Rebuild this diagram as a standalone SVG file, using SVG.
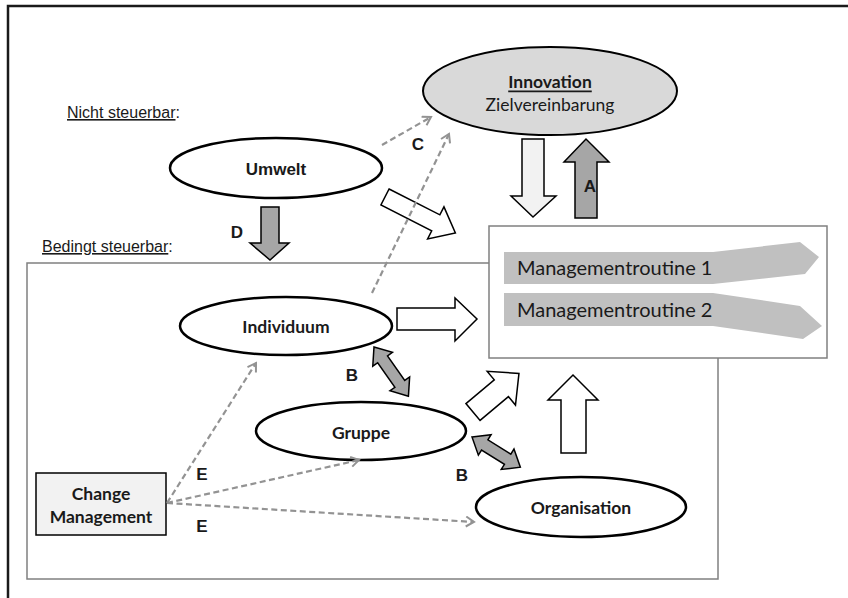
<svg xmlns="http://www.w3.org/2000/svg" width="848" height="598" viewBox="0 0 848 598">
  <defs>
    <style>
      .node { fill: #ffffff; stroke: #000000; stroke-width: 2.5; }
      .lbl { font-family: Lato, "Open Sans", sans-serif; font-weight: bold; font-size: 17.5px; fill: #1a1a1a; text-anchor: middle; dominant-baseline: central; }
      .lbl-plain { font-family: Lato, "Open Sans", sans-serif; font-size: 17.5px; fill: #1a1a1a; text-anchor: middle; dominant-baseline: central; }
      .area { font-family: "Liberation Sans", Arial, sans-serif; font-size: 16px; fill: #1a1a1a; }
      .letter { font-family: "Liberation Sans", Arial, sans-serif; font-weight: bold; font-size: 17px; fill: #1a1a1a; text-anchor: middle; dominant-baseline: central; }
      .frame { fill: none; stroke: #808080; stroke-width: 1.5; }
      .dash { fill: none; stroke: #939393; stroke-width: 2.2; stroke-dasharray: 6 3.5; marker-end: url(#open); }
      .block-white { fill: #ffffff; stroke: #000000; stroke-width: 1.5; }
      .block-light { fill: #f2f2f2; stroke: #000000; stroke-width: 1.5; }
      .block-gray { fill: #a6a6a6; stroke: #000000; stroke-width: 1.5; }
      .routine { fill: #c0c0c0; }
      .routine-text { font-family: Lato, "Open Sans", sans-serif; font-size: 20px; fill: #1a1a1a; }
    </style>
    <marker id="open" viewBox="0 0 12 12" refX="10" refY="6" markerWidth="12" markerHeight="12" markerUnits="userSpaceOnUse" orient="auto">
      <path d="M2,1 L10,6 L2,11" fill="none" stroke="#939393" stroke-width="2"/>
    </marker>
  </defs>

  <rect width="848" height="598" fill="#ffffff"/>
  <!-- page border (top and left) -->
  <path d="M8,598 V6 H848" fill="none" stroke="#1a1a1a" stroke-width="2.5"/>

  <!-- area labels and frames -->
  <text class="area" x="67" y="118"><tspan text-decoration="underline">Nicht steuerbar</tspan>:</text>
  <text class="area" x="42" y="252"><tspan text-decoration="underline">Bedingt steuerbar</tspan>:</text>
  <rect class="frame" x="27" y="263" width="691" height="316"/>

  <!-- management routines box -->
  <g id="routines">
    <rect x="489" y="226" width="338" height="132" fill="#ffffff" stroke="#808080" stroke-width="1.5"/>
    <polygon class="routine" points="504,252 713,252 800,242 819,257 805,274 713,284 504,284"/>
    <polygon class="routine" points="504,293 713,293 800,306 822,326 803,339 713,326 504,326"/>
    <text class="routine-text" x="517" y="275">Managementroutine 1</text>
    <text class="routine-text" x="517" y="317">Managementroutine 2</text>
  </g>

  <!-- nodes -->
  <g id="innovation">
    <ellipse cx="550" cy="91" rx="127" ry="44" fill="#d9d9d9" stroke="#000000" stroke-width="2"/>
    <text class="lbl" x="550" y="81" text-decoration="underline">Innovation</text>
    <text class="lbl-plain" x="550" y="104">Zielvereinbarung</text>
  </g>
  <g id="umwelt">
    <ellipse class="node" cx="276" cy="168" rx="106" ry="30"/>
    <text class="letter" x="276" y="169">Umwelt</text>
  </g>
  <g id="individuum">
    <ellipse class="node" cx="286" cy="326" rx="106" ry="29"/>
    <text class="lbl" x="286" y="326">Individuum</text>
  </g>
  <g id="gruppe">
    <ellipse class="node" cx="361" cy="431" rx="105" ry="29"/>
    <text class="lbl" x="361" y="432">Gruppe</text>
  </g>
  <g id="organisation">
    <ellipse class="node" cx="581" cy="507" rx="105" ry="30"/>
    <text class="lbl" x="581" y="507">Organisation</text>
  </g>
  <g id="change-management">
    <rect x="36" y="473" width="130" height="62" fill="#f2f2f2" stroke="#000000" stroke-width="1.5"/>
    <text class="lbl" x="101" y="493">Change</text>
    <text class="lbl" x="101" y="516">Management</text>
  </g>

  <!-- connectors -->
  <g id="connectors">
    <!-- block arrows -->
    <polygon class="block-gray" points="261,207 279,207 279,243 289,243 270,260 250,243 261,243"/>
    <polygon class="block-gray" points="575,218 597,218 597,162 609,162 586,139 564,162 575,162"/>
    <polygon class="block-light" points="522,139 544,139 544,196 556,196 533,217 511,196 522,196"/>
    <polygon class="block-white" transform="translate(385,197) rotate(27)" points="0,-9 57,-9 57,-18 79,0 57,18 57,9 0,9"/>
    <polygon class="block-white" points="397,308 455,308 455,298 477,319 455,341 455,330 397,330"/>
    <polygon class="block-white" transform="translate(473,412) rotate(-40)" points="0,-11 37,-11 37,-22 60,0 37,22 37,11 0,11"/>
    <polygon class="block-white" points="561,453 586,453 586,400 598,400 573,375 548,400 561,400"/>
    <!-- double arrows B -->
    <polygon class="block-gray" transform="translate(374,347) rotate(55)" points="0,0 15,-12 15,-6 45,-6 45,-12 60,0 45,12 45,6 15,6 15,12"/>
    <polygon class="block-gray" transform="translate(472,437) rotate(32)" points="0,0 15,-12 15,-6 42,-6 42,-12 57,0 42,12 42,6 15,6 15,12"/>
    <!-- dashed influence arrows -->
    <line class="dash" x1="382" y1="145" x2="431" y2="117"/>
    <line class="dash" x1="372" y1="293" x2="449" y2="134"/>
    <line class="dash" x1="167" y1="503" x2="256" y2="363"/>
    <line class="dash" x1="167" y1="503" x2="359" y2="460"/>
    <line class="dash" x1="167" y1="503" x2="474" y2="522"/>
    <!-- letters -->
    <text class="letter" x="237" y="232">D</text>
    <text class="letter" x="590" y="186">A</text>
    <text class="letter" x="418" y="144">C</text>
    <text class="letter" x="352" y="375">B</text>
    <text class="letter" x="462" y="475">B</text>
    <text class="letter" x="202" y="474">E</text>
    <text class="letter" x="202" y="526">E</text>
  </g>
</svg>
